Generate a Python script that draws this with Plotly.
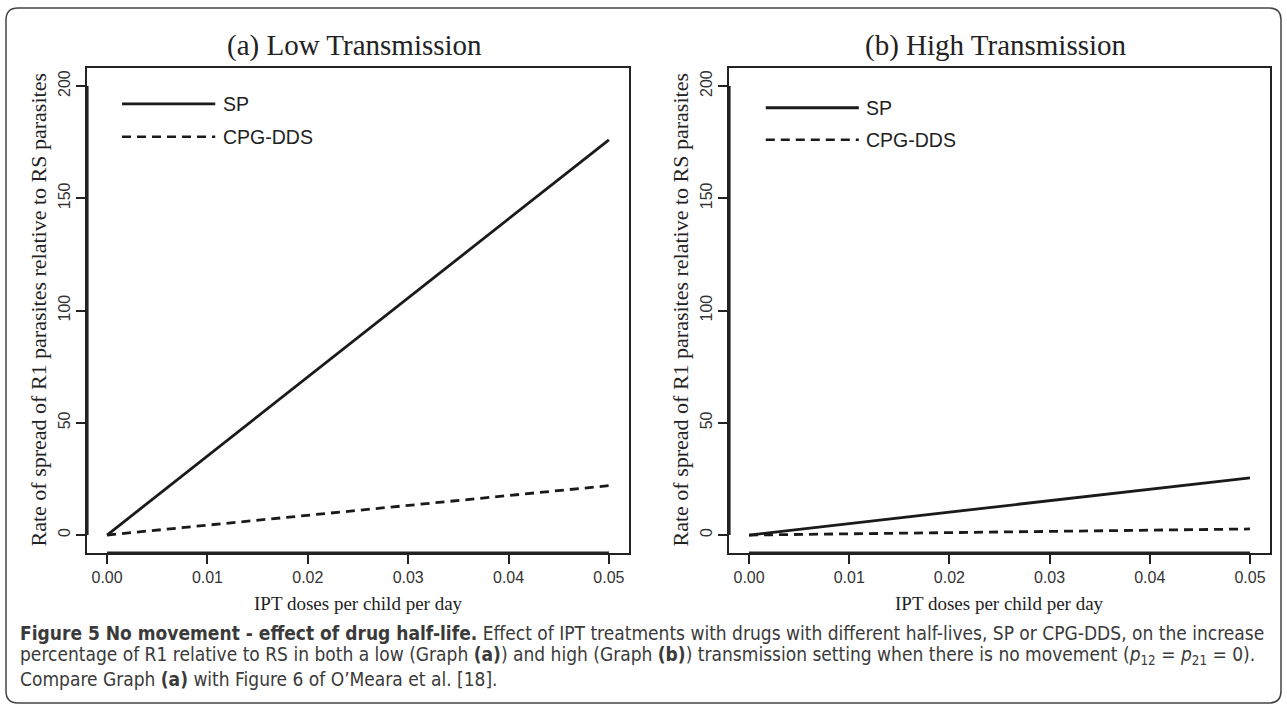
import plotly.graph_objects as go

# ---- data ----
doses = [0.00, 0.05]
low_sp = [0.0, 176.0]
low_cpg = [0.0, 22.0]
high_sp = [0.0, 25.5]
high_cpg = [0.0, 2.7]
x_ticks = [0.00, 0.01, 0.02, 0.03, 0.04, 0.05]
x_ticklabels = ["0.00", "0.01", "0.02", "0.03", "0.04", "0.05"]
y_ticks = [0, 50, 100, 150, 200]
y_ticklabels = ["0", "50", "100", "150", "200"]
series_names = ["SP", "CPG-DDS"]
panel_titles = ["(a) Low Transmission", "(b) High Transmission"]
x_title = "IPT doses per child per day"
y_title = "Rate of spread of R1 parasites relative to RS parasites"

W, H = 1287, 710
def px(x):
    return x / W
def py(y):
    return 1 - y / H

SERIF = "Liberation Serif, Times New Roman, serif"
SANS = "Liberation Sans, Arial, sans-serif"
CAP = "DejaVu Sans Condensed, Open Sans, sans-serif"

fig = go.Figure()

panels = [
    dict(xa="x", ya="y", sp=low_sp, cpg=low_cpg, dom=(87, 629)),
    dict(xa="x2", ya="y2", sp=high_sp, cpg=high_cpg, dom=(729, 1270)),
]
for p in panels:
    fig.add_trace(go.Scatter(x=doses, y=p["sp"], mode="lines", xaxis=p["xa"], yaxis=p["ya"],
                             line=dict(color="#1a1a1a", width=2.8), name=series_names[0], showlegend=False))
    fig.add_trace(go.Scatter(x=doses, y=p["cpg"], mode="lines", xaxis=p["xa"], yaxis=p["ya"],
                             line=dict(color="#1a1a1a", width=2.8, dash="9px,6px"), name=series_names[1], showlegend=False))

ytop, ybot = 68, 553
ax_common = dict(showline=True, linecolor="#222", linewidth=1.5, mirror=True,
                 ticks="outside", ticklen=9, tickwidth=2.2, tickcolor="#222",
                 showgrid=False, zeroline=False,
                 tickfont=dict(family=SANS, size=16, color="#333"))
fig.update_layout(
    width=W, height=H, margin=dict(l=0, r=0, t=0, b=0),
    paper_bgcolor="white", plot_bgcolor="white", showlegend=False,
    xaxis=dict(domain=[px(87), px(629)], range=[-0.002, 0.052], tickvals=x_ticks, ticktext=x_ticklabels,
               anchor="y", **ax_common),
    yaxis=dict(domain=[py(ybot), py(ytop)], range=[-8, 208], tickvals=y_ticks, ticktext=y_ticklabels,
               tickangle=-90, anchor="x", **ax_common),
    xaxis2=dict(domain=[px(729), px(1270)], range=[-0.002, 0.052], tickvals=x_ticks, ticktext=x_ticklabels,
                anchor="y2", **ax_common),
    yaxis2=dict(domain=[py(ybot), py(ytop)], range=[-8, 208], tickvals=y_ticks, ticktext=y_ticklabels,
                tickangle=-90, anchor="x2", **ax_common),
)

shapes = []
annotations = []
for i, p in enumerate(panels):
    xa, ya = p["xa"], p["ya"]
    # thick R-style axis segments
    shapes.append(dict(type="line", xref=f"{xa} domain", yref=ya, x0=0, x1=0, y0=y_ticks[0], y1=y_ticks[-1],
                       line=dict(color="#222", width=3.2), layer="above"))
    shapes.append(dict(type="line", xref=xa, yref=f"{ya} domain", x0=x_ticks[0], x1=x_ticks[-1], y0=0, y1=0,
                       line=dict(color="#222", width=3.2), layer="above"))
    # legend samples
    ly1, ly2 = (0.926, 0.858) if i == 0 else (0.918, 0.852)
    lx0 = 0.0646 if i == 0 else 0.068
    lx1 = lx0 + 0.172
    shapes.append(dict(type="line", xref=f"{xa} domain", yref=f"{ya} domain", x0=lx0, x1=lx1, y0=ly1, y1=ly1,
                       line=dict(color="#1a1a1a", width=2.8)))
    shapes.append(dict(type="line", xref=f"{xa} domain", yref=f"{ya} domain", x0=lx0, x1=lx1, y0=ly2, y1=ly2,
                       line=dict(color="#1a1a1a", width=2.5, dash="9px,6px")))
    for txt, yy in zip(series_names, (ly1, ly2)):
        annotations.append(dict(text=txt, xref=f"{xa} domain", yref=f"{ya} domain", x=lx1 + 0.01, y=yy,
                                xanchor="left", yanchor="middle", showarrow=False,
                                font=dict(family=SANS, size=19.5, color="#222")))
    cx = (p["dom"][0] + p["dom"][1]) / 2
    annotations.append(dict(text=panel_titles[i], xref="paper", yref="paper", x=px(cx - 4), y=py(45),
                            xanchor="center", yanchor="middle", showarrow=False,
                            font=dict(family=SERIF, size=29, color="#222")))
    annotations.append(dict(text=x_title, xref="paper", yref="paper", x=px(cx), y=py(603),
                            xanchor="center", yanchor="middle", showarrow=False,
                            font=dict(family=SERIF, size=19, color="#222")))
    annotations.append(dict(text=y_title, xref="paper", yref="paper", x=px(p["dom"][0] - 49), y=py((ytop + ybot) / 2),
                            xanchor="center", yanchor="middle", textangle=-90, showarrow=False,
                            font=dict(family=SERIF, size=22, color="#222")))

# outer rounded frame
x0, y0, x1, y1, r = 6, 8, 1281, 703, 12
def P(x, y):
    return f"{px(x):.5f},{py(y):.5f}"
path = (f"M {P(x0 + r, y0)} L {P(x1 - r, y0)} Q {P(x1, y0)} {P(x1, y0 + r)} "
        f"L {P(x1, y1 - r)} Q {P(x1, y1)} {P(x1 - r, y1)} L {P(x0 + r, y1)} Q {P(x0, y1)} {P(x0, y1 - r)} "
        f"L {P(x0, y0 + r)} Q {P(x0, y0)} {P(x0 + r, y0)} Z")
shapes.append(dict(type="path", xref="paper", yref="paper", path=path, line=dict(color="#444", width=1.5)))

cap_lines = [
    "<b>Figure 5 No movement - effect of drug half-life.</b> Effect of IPT treatments with drugs with different half-lives, SP or CPG-DDS, on the increase",
    "percentage of R1 relative to RS in both a low (Graph <b>(a)</b>) and high (Graph <b>(b)</b>) transmission setting when there is no movement (<i>p</i><sub>12</sub> = <i>p</i><sub>21</sub> = 0).",
    "Compare Graph <b>(a)</b> with Figure 6 of O\u2019Meara et al. [18].",
]
for k, (line, yc) in enumerate(zip(cap_lines, (633, 655.5, 679))):
    annotations.append(dict(text=line, xref="paper", yref="paper", x=px(18), y=py(yc),
                            xanchor="left", yanchor="middle", align="left", showarrow=False,
                            font=dict(family=CAP, size=19, color="#3a3a3a")))

fig.update_layout(shapes=shapes, annotations=annotations)
fig.write_html("out.html", config={"displayModeBar": False},
               post_script="document.body.style.margin='0';document.body.style.overflow='hidden';")
